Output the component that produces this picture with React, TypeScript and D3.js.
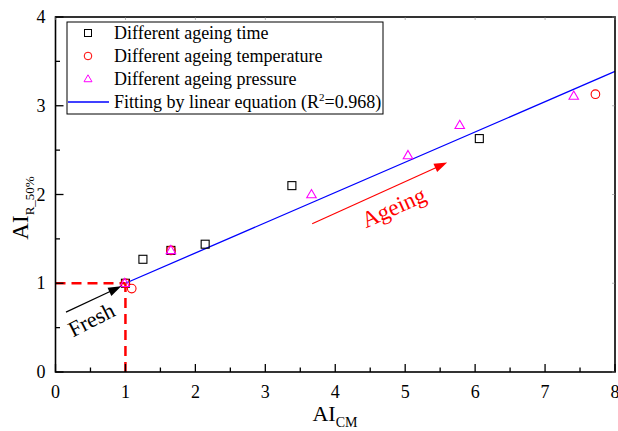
import React from "react";
import * as d3 from "d3";

const timeX = [1.0, 1.25, 1.65, 2.14, 3.38, 6.06];
const timeY = [1.0, 1.27, 1.37, 1.44, 2.1, 2.63];
const tempX = [1.0, 1.09, 1.65, 7.72];
const tempY = [1.0, 0.94, 1.37, 3.13];
const presX = [0.99, 1.65, 3.66, 5.04, 5.78, 7.41];
const presY = [1.0, 1.37, 2.0, 2.44, 2.78, 3.11];
const fitX = [1, 8];
const fitSlope = 0.341;
const fitIntercept = 0.659;
const xTicks = [0, 1, 2, 3, 4, 5, 6, 7, 8];
const yTicks = [0, 1, 2, 3, 4];
const legendLabels = [
  "Different ageing time",
  "Different ageing temperature",
  "Different ageing pressure",
  "Fitting by linear equation (R",
];

const W = 618, H = 431;
const L = 55.5, R = 615, T = 17, B = 372;
const FONT = "Liberation Serif";

export default function App() {
  const x = d3.scaleLinear().domain([0, 8]).range([L, R]);
  const y = d3.scaleLinear().domain([0, 4]).range([B, T]);
  const xMinor = d3.range(0.5, 8, 1);
  const yMinor = d3.range(0.5, 4, 1);
  const fitLine = d3.line<number>().x((d) => x(d)).y((d) => y(fitIntercept + fitSlope * d));
  const tri = (cx: number, cy: number, s = 5) =>
    `M${cx},${cy - s} L${cx + s * 0.95},${cy + s * 0.65} L${cx - s * 0.95},${cy + s * 0.65} Z`;

  const freshA = { x0: 0.15, y0: 0.675, x1: 0.94, y1: 0.965 };
  const ageA = { x0: 3.67, y0: 1.67, x1: 5.6, y1: 2.36 };
  const fx0 = x(freshA.x0), fy0 = y(freshA.y0), fx1 = x(freshA.x1), fy1 = y(freshA.y1);
  const ax0 = x(ageA.x0), ay0 = y(ageA.y0), ax1 = x(ageA.x1), ay1 = y(ageA.y1);
  const fAng = Math.atan2(fy1 - fy0, fx1 - fx0);
  const aAng = Math.atan2(ay1 - ay0, ax1 - ax0);
  const head = (hx: number, hy: number, ang: number, len = 13, wid = 4.5) => {
    const bx = hx - len * Math.cos(ang), by = hy - len * Math.sin(ang);
    const px = -Math.sin(ang) * wid, py = Math.cos(ang) * wid;
    return `M${hx},${hy} L${bx + px},${by + py} L${bx - px},${by - py} Z`;
  };

  const legY = [33, 56, 79, 102];
  const ts = { fontFamily: FONT };
  return (
    <svg width={W} height={H} style={{ position: "absolute", left: 0, top: 0, fontFamily: FONT }}>
      <rect x={0} y={0} width={W} height={H} fill="white" />
      <path d={fitLine(fitX) || ""} stroke="#0000ff" strokeWidth={1.3} fill="none" />
      <line x1={x(0)} y1={y(1)} x2={x(1)} y2={y(1)} stroke="#ff0000" strokeWidth={2.5} strokeDasharray="10,6" />
      <line x1={x(1)} y1={y(0)} x2={x(1)} y2={y(1)} stroke="#ff0000" strokeWidth={2.5} strokeDasharray="10,6" />
      {timeX.map((d, i) => (
        <rect key={"t" + i} x={x(d) - 4} y={y(timeY[i]) - 4} width={8} height={8} fill="none" stroke="#000" strokeWidth={1.1} />
      ))}
      {tempX.map((d, i) => (
        <circle key={"c" + i} cx={x(d)} cy={y(tempY[i])} r={4.3} fill="none" stroke="#ff0000" strokeWidth={1.1} />
      ))}
      {presX.map((d, i) => (
        <path key={"p" + i} d={tri(x(d), y(presY[i]))} fill="none" stroke="#ff00ff" strokeWidth={1.1} />
      ))}
      <line x1={fx0} y1={fy0} x2={fx1 - 10 * Math.cos(fAng)} y2={fy1 - 10 * Math.sin(fAng)} stroke="#000" strokeWidth={1.2} />
      <path d={head(fx1, fy1, fAng)} fill="#000" />
      <line x1={ax0} y1={ay0} x2={ax1 - 10 * Math.cos(aAng)} y2={ay1 - 10 * Math.sin(aAng)} stroke="#ff0000" strokeWidth={1.2} />
      <path d={head(ax1, ay1, aAng)} fill="#ff0000" />
      <text style={ts} x={92} y={327} fontSize={22} textAnchor="middle" transform={`rotate(-27,92,321)`} fill="#000">Fresh</text>
      <text style={ts} x={394} y={215} fontSize={23} textAnchor="middle" transform={`rotate(-24,394,208)`} fill="#ff0000">Ageing</text>
      <rect x={L} y={T} width={R - L} height={B - T} fill="none" stroke="#000" strokeWidth={1.6} />
      {xTicks.map((t) => (
        <g key={"xt" + t}>
          <line x1={x(t)} x2={x(t)} y1={B} y2={B - 8} stroke="#000" strokeWidth={1.3} />
          <line x1={x(t)} x2={x(t)} y1={T} y2={T + 3} stroke="#888" strokeWidth={0.6} />
          <text style={ts} x={x(t)} y={B + 26} fontSize={18} textAnchor="middle">{t}</text>
        </g>
      ))}
      {xMinor.map((t) => (
        <line key={"xm" + t} x1={x(t)} x2={x(t)} y1={B} y2={B - 4.5} stroke="#000" strokeWidth={1.3} />
      ))}
      {yTicks.map((t) => (
        <g key={"yt" + t}>
          <line x1={L} x2={L + 8} y1={y(t)} y2={y(t)} stroke="#000" strokeWidth={1.3} />
          <line x1={R} x2={R - 3} y1={y(t)} y2={y(t)} stroke="#888" strokeWidth={0.6} />
          <text style={ts} x={L - 10} y={y(t) + 6} fontSize={18} textAnchor="end">{t}</text>
        </g>
      ))}
      {yMinor.map((t) => (
        <line key={"ym" + t} x1={L} x2={L + 4.5} y1={y(t)} y2={y(t)} stroke="#000" strokeWidth={1.3} />
      ))}
      <text style={ts} x={335} y={421} fontSize={22} textAnchor="middle">
        AI<tspan fontSize={14} dy={6}>CM</tspan>
      </text>
      <text style={ts} transform={`translate(28,208) rotate(-90)`} fontSize={23} textAnchor="middle">
        AI<tspan fontSize={13} dy={6}>R_50%</tspan>
      </text>
      <rect x={67} y={22} width={316} height={92} fill="white" stroke="#000" strokeWidth={1} />
      <rect x={84.5} y={legY[0] - 3.5} width={7} height={7} fill="none" stroke="#000" strokeWidth={1} />
      <circle cx={88} cy={legY[1]} r={3.8} fill="none" stroke="#ff0000" strokeWidth={1} />
      <path d={tri(88, legY[2], 4.2)} fill="none" stroke="#ff00ff" strokeWidth={1} />
      <line x1={68} x2={109} y1={legY[3]} y2={legY[3]} stroke="#0000ff" strokeWidth={1.3} />
      {legendLabels.map((s, i) => (
        <text style={ts} key={"l" + i} x={114} y={legY[i] + 6} fontSize={18}>
          {s}
          {i === 3 ? (
            <>
              <tspan fontSize={11} dy={-7}>2</tspan>
              <tspan dy={7}>=0.968)</tspan>
            </>
          ) : null}
        </text>
      ))}
    </svg>
  );
}
